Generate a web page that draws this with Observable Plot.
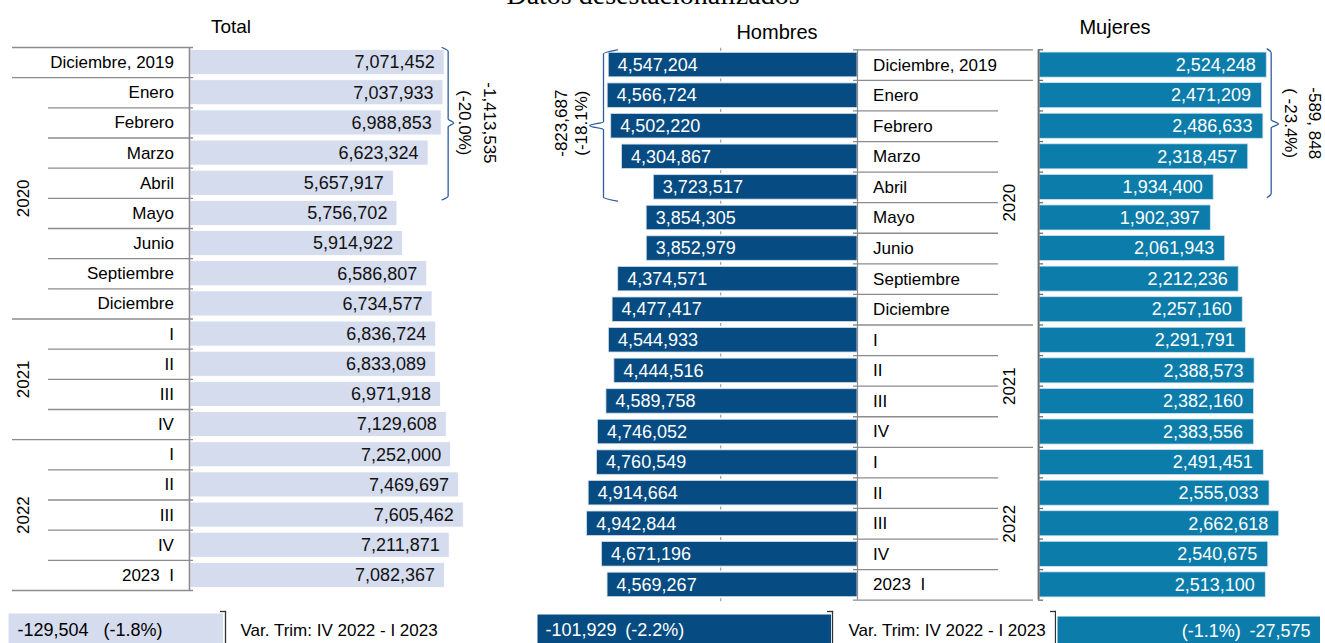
<!DOCTYPE html>
<html><head><meta charset="utf-8">
<script src="https://cdn.jsdelivr.net/npm/d3@7"></script>
<script src="https://cdn.jsdelivr.net/npm/@observablehq/plot@0.6"></script>
<style>
html,body{margin:0;padding:0;background:#fff;}
#page{position:relative;width:1325px;height:643px;overflow:hidden;background:#fff;font-family:"Liberation Sans",Arial,sans-serif;color:#000;}
.ttl{position:absolute;white-space:nowrap;transform:translateX(-50%);line-height:1;}
</style></head><body>
<div id="page">
<div class="ttl" style="left:653px;top:-19px;font-family:'Liberation Serif','Times New Roman',serif;font-size:28px;line-height:28px">Datos desestacionalizados</div>
<div class="ttl" style="left:231px;top:17px;font-size:19px">Total</div>
<div class="ttl" style="left:777px;top:22px;font-size:20px">Hombres</div>
<div class="ttl" style="left:1115px;top:17px;font-size:20px">Mujeres</div>
</div>
<script>
// ---------- DATA ----------
const periodos = ["Diciembre, 2019","Enero","Febrero","Marzo","Abril","Mayo","Junio","Septiembre","Diciembre",
  "I","II","III","IV","I","II","III","IV","2023  I"];
const anioDeFila = [null,"2020","2020","2020","2020","2020","2020","2020","2020",
  "2021","2021","2021","2021","2022","2022","2022","2022","2022"];
const total = [7071452,7037933,6988853,6623324,5657917,5756702,5914922,6586807,6734577,
  6836724,6833089,6971918,7129608,7252000,7469697,7605462,7211871,7082367];
const hombres = [4547204,4566724,4502220,4304867,3723517,3854305,3852979,4374571,4477417,
  4544933,4444516,4589758,4746052,4760549,4914664,4942844,4671196,4569267];
const mujeres = [2524248,2471209,2486633,2318457,1934400,1902397,2061943,2212236,2257160,
  2291791,2388573,2382160,2383556,2491451,2555033,2662618,2540675,2513100];
const caidaTotal = ["-1,413,535","(-20.0%)"];
const caidaHombres = ["-823,687","(-18.1%)"];
const caidaMujeres = ["-589, 848","( -23.4%)"];
const varTrimEtiqueta = "Var. Trim: IV 2022 - I 2023";
const marcaEjeHombres = [2500000];

// ---------- HELPERS ----------
const loc = d3.formatLocale({decimal:".", thousands:",", grouping:[3], currency:["$",""], minus:"-"});
const fmt = loc.format(",");
const fmtPct = v => (v*100).toFixed(1) + "%";
const FONT = '"Liberation Sans", Arial, sans-serif';
const page = document.getElementById("page");
function place(svg, left, top){
  Object.assign(svg.style,{position:"absolute",left:left+"px",top:top+"px",overflow:"hidden",
    background:"transparent",maxWidth:"none",fontFamily:FONT});
  page.appendChild(svg);
}
const C_TOTAL = "#D5DCEE", C_HOM = "#064C82", C_MUJ = "#0C7DAA", C_BRACE = "#2F5E9E", C_LINE = "#8c8c8c";

const n = periodos.length;
const filas = periodos.map((p,i)=>({i, periodo:p, anio:anioDeFila[i], total:total[i], hombres:hombres[i], mujeres:mujeres[i]}));
const bordes = d3.range(0, n+1).map(b => ({y: b-0.5, completo: b===0 || b===n || anioDeFila[b-1] !== anioDeFila[b]}));
const grupos = d3.groups(filas.filter(d=>d.anio), d=>d.anio).map(([anio, rows]) => ({anio, y: d3.mean(rows, d=>d.i)}));

const yT = {domain:[-0.5, n-0.5], range:[47, 590], axis:null};
const yHM = {domain:[-0.5, n-0.5], range:[49.3, 599.7], axis:null};

// curly brace in data space (offsets in px converted with the panel scale)
function llave(base, pxU, off, yTop, yBot, r, yMid){
  const u = px => base + px/pxU;
  return [
    {x:u(off.g), y:yTop},{x:u(off.v), y:yTop+r},{x:u(off.v), y:yMid-r},{x:u(off.p), y:yMid},
    {x:u(off.v), y:yMid+r},{x:u(off.v), y:yBot-r},{x:u(off.g), y:yBot}];
}
const varTrim = arr => ({v: fmt(arr[n-1]-arr[n-2]), p: "(" + fmtPct((arr[n-1]-arr[n-2])/arr[n-2]) + ")"});

// ---------- TOTAL ----------
place(Plot.plot({width:200, height:643, margin:0,
  x:{domain:[0,1], range:[12,193], axis:null}, y:yT,
  marks:[
    Plot.ruleY(bordes, {y:"y", x1:d=>d.completo?0:0.199, x2:1, stroke:C_LINE, strokeWidth:1.3}),
    Plot.text(filas, {x:0.892, y:"i", text:"periodo", textAnchor:"end", fontSize:17, fill:"#000"}),
    Plot.text(grupos, {x:0.061, y:"y", text:"anio", rotate:-90, fontSize:17, fill:"#000"})
  ]}), 0, 0);

const sT = 3.594e-5;
const maxT = d3.max(total.slice(0,5));
place(Plot.plot({width:335, height:643, margin:0,
  x:{domain:[0,9e6], range:[2, 2+9e6*sT], axis:null}, y:yT,
  marks:[
    Plot.rect(filas, {x1:0, x2:"total", y1:d=>d.i-0.415, y2:d=>d.i+0.415, fill:C_TOTAL, stroke:"#ffffff", strokeWidth:0.8}),
    Plot.text(filas, {x:"total", y:"i", text:d=>fmt(d.total), dx:-10, textAnchor:"end", fontSize:18, fill:"#111"}),
    Plot.ruleX([0], {y1:-0.5, y2:n-0.5, stroke:C_LINE, strokeWidth:1.6, dx:-1}),
    Plot.line(llave(maxT, sT, {g:-2.5, v:3.5, p:9}, -0.5, 4.55, 0.13, 2), {x:"x", y:"y", curve:"monotone-y", stroke:C_BRACE, strokeWidth:1.3}),
    Plot.text([caidaTotal.join("\n")], {x:maxT + 35/sT, y:2, text:d=>d, rotate:90, fontSize:17, lineHeight:1.45, fill:"#000"})
  ]}), 188, 0);

// ---------- HOMBRES ----------
const sH = 5.47e-5;
const maxH = d3.max(hombres.slice(0,5));
place(Plot.plot({width:340, height:643, margin:0,
  x:{domain:[0,6e6], range:[337, 337-6e6*sH], axis:null}, y:yHM,
  marks:[
    Plot.rect(filas, {x1:0, x2:"hombres", y1:d=>d.i-0.4, y2:d=>d.i+0.4, fill:C_HOM, stroke:"#d3dde9", strokeWidth:0.8}),
    Plot.text(filas, {x:"hombres", y:"i", text:d=>fmt(d.hombres), dx:9, textAnchor:"start", fontSize:18, fill:"#fff"}),
    Plot.ruleX(bordes, {x:marcaEjeHombres[0], y1:d=>d.y-0.05, y2:d=>d.y+0.05, stroke:"#8a8a8a", strokeWidth:1}),
    Plot.ruleX([0], {y1:-0.5, y2:n-0.5, stroke:C_LINE, strokeWidth:1.2}),
    Plot.line(llave(maxH, sH, {g:-9.8, v:4.2, p:18}, -0.5, 4.45, 0.13, 1.98), {x:"x", y:"y", curve:"monotone-y", stroke:C_BRACE, strokeWidth:1.3}),
    Plot.text([caidaHombres.join("\n")], {x:maxH + 37/sH, y:1.9, text:d=>d, rotate:-90, fontSize:17, lineHeight:1.2, fill:"#000"})
  ]}), 520, 0);

place(Plot.plot({width:190, height:643, margin:0,
  x:{domain:[0,1], range:[3,183], axis:null}, y:yHM,
  marks:[
    Plot.ruleY(bordes, {y:"y", x1:0, x2:d=>d.completo?1:0.806, stroke:C_LINE, strokeWidth:1.3}),
    Plot.text(filas, {x:0.109, y:"i", text:"periodo", textAnchor:"start", fontSize:17, fill:"#000"}),
    Plot.text(grupos, {x:0.869, y:"y", text:"anio", rotate:-90, fontSize:17, fill:"#000"})
  ]}), 850, 0);

// ---------- MUJERES ----------
const sM = 9.0e-5;
const maxM = d3.max(mujeres.slice(0,5));
place(Plot.plot({width:289, height:643, margin:0,
  x:{domain:[0,3e6], range:[3.1, 3.1+3e6*sM], axis:null}, y:yHM,
  marks:[
    Plot.rect(filas, {x1:0, x2:"mujeres", y1:d=>d.i-0.41, y2:d=>d.i+0.41, fill:C_MUJ, stroke:"#d3e3ec", strokeWidth:0.8}),
    Plot.text(filas, {x:"mujeres", y:"i", text:d=>fmt(d.mujeres), dx:-11, textAnchor:"end", fontSize:18, fill:"#fff"}),
    Plot.ruleY(bordes, {y:"y", x1:0, x2:5/sM, dx:-1, stroke:"#6e6e6e", strokeWidth:1.3}),
    Plot.ruleX([0], {y1:-0.5, y2:n-0.5, stroke:"#6e6e6e", strokeWidth:2, dx:-1}),
    Plot.line(llave(maxM, sM, {g:0.4, v:4.4, p:11.7}, -0.53, 4.33, 0.13, 1.92), {x:"x", y:"y", curve:"monotone-y", stroke:C_BRACE, strokeWidth:1.3}),
    Plot.text([caidaMujeres.join("\n")], {x:maxM + 37.7/sM, y:1.9, text:d=>d, rotate:90, fontSize:17, lineHeight:1.4, fill:"#000"})
  ]}), 1036, 0);

// ---------- VARIACIÓN TRIMESTRAL ----------
const vt = varTrim(total), vh = varTrim(hombres), vm = varTrim(mujeres);
function caja(w, h, color, texto, anchor, dx, fill){
  return Plot.plot({width:w, height:h, margin:0, marks:[
    Plot.frame({fill:color, stroke:"none"}),
    Plot.text([texto], {frameAnchor:anchor, text:d=>d, dx, textAnchor: anchor==="left"?"start":"end", fontSize:18, fill})
  ]});
}
function corchete(w, etiqueta, dx){
  return Plot.plot({width:w, height:40, marginLeft:0, marginRight:w-5, marginTop:1, marginBottom:0, marks:[
    Plot.frame({anchor:"top", stroke:"#333", strokeWidth:1.3}),
    Plot.frame({anchor:"right", stroke:"#333", strokeWidth:1.3}),
    ...(etiqueta ? [Plot.text([etiqueta], {frameAnchor:"right", text:d=>d, dx, textAnchor:"start", fontSize:17, fill:"#000"})] : [])
  ]});
}
place(caja(215, 34, C_TOTAL, vt.v + "\u00a0\u00a0\u00a0" + vt.p, "left", 9, "#000"), 8, 613);
place(corchete(240, varTrimEtiqueta, 15), 220, 610);
place(caja(294, 32, C_HOM, vh.v + "\u00a0\u2009" + vh.p, "left", 8, "#fff"), 537, 614);
place(corchete(230, varTrimEtiqueta, 16), 827, 610);
place(caja(263, 30, C_MUJ, vm.p + "\u00a0\u2009" + vm.v, "right", -10, "#fff"), 1057, 616);
place(corchete(6, null, 0), 1050, 610);
</script>
</body></html>
